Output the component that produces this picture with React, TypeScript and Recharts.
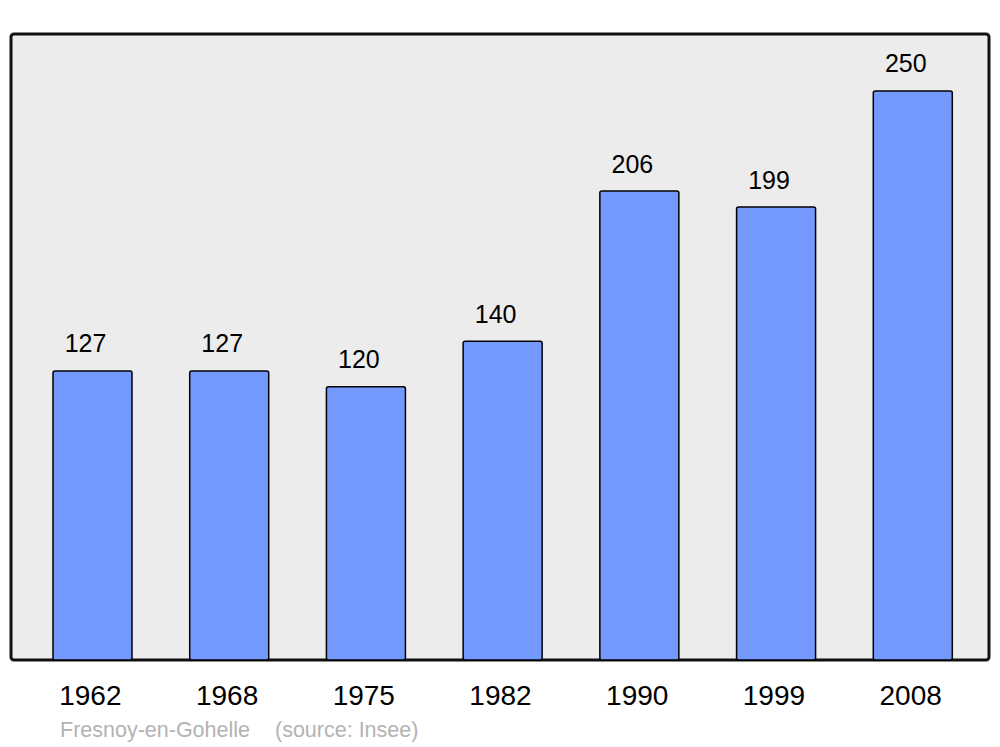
import React from 'react';
import { BarChart, Bar, XAxis, YAxis, LabelList } from 'recharts';

const years = ['1962', '1968', '1975', '1982', '1990', '1999', '2008'];
const population = [127, 127, 120, 140, 206, 199, 250];
const footerPlace = 'Fresnoy-en-Gohelle';
const footerSource = '(source: Insee)';

const data = years.map((year, i) => ({ year, pop: population[i] }));

const W = 1000;
const H = 747;
const FONT = '"Liberation Sans", Arial, sans-serif';
const MARGIN = { top: 34, right: 11, left: 11, bottom: 0 };
const XAXIS_H = 87;
const PLOT_BOTTOM = H - MARGIN.bottom - XAXIS_H;

const YearTick = (props: any) => {
  const { x, y, payload } = props;
  return (
    <text x={x - 2} y={y} dy={45} textAnchor="middle" fontSize={28} fill="#000" fontFamily={FONT}>
      {payload.value}
    </text>
  );
};

const ValueLabel = (props: any) => {
  const { x, y, width, value } = props;
  return (
    <text x={x + width / 2 - 7} y={y - 18.5} textAnchor="middle" fontSize={25} fill="#000" fontFamily={FONT}>
      {value}
    </text>
  );
};

export default function App() {
  return (
    <div style={{ position: 'absolute', left: 0, top: 0, width: W, height: H, background: '#fff' }}>
      <svg width={W} height={H} style={{ position: 'absolute', left: 0, top: 0 }}>
        <rect
          x={MARGIN.left}
          y={MARGIN.top}
          width={W - MARGIN.left - MARGIN.right}
          height={PLOT_BOTTOM - MARGIN.top}
          rx={3}
          ry={3}
          fill="#ececec"
          stroke="#111"
          strokeWidth={3}
        />
        <text x={60} y={737} fontSize={21.5} fill="#b3b3b3" fontFamily={FONT}>{footerPlace}</text>
        <text x={275} y={737} fontSize={21.5} fill="#b3b3b3" fontFamily={FONT}>{footerSource}</text>
      </svg>
      <div style={{ position: 'absolute', left: 0, top: 0 }}>
        <BarChart width={W} height={H} data={data} margin={MARGIN}>
          <XAxis
            dataKey="year"
            axisLine={false}
            tickLine={false}
            tickSize={0}
            tickMargin={0}
            height={XAXIS_H}
            padding={{ left: 13, right: 8 }}
            tick={<YearTick />}
            interval={0}
          />
          <YAxis hide domain={[0, 275]} />
          <Bar
            dataKey="pop"
            fill="#7399ff"
            stroke="#000"
            strokeWidth={1.5}
            barSize={79}
            radius={2}
            isAnimationActive={false}
          >
            <LabelList dataKey="pop" content={<ValueLabel />} />
          </Bar>
        </BarChart>
      </div>
    </div>
  );
}
